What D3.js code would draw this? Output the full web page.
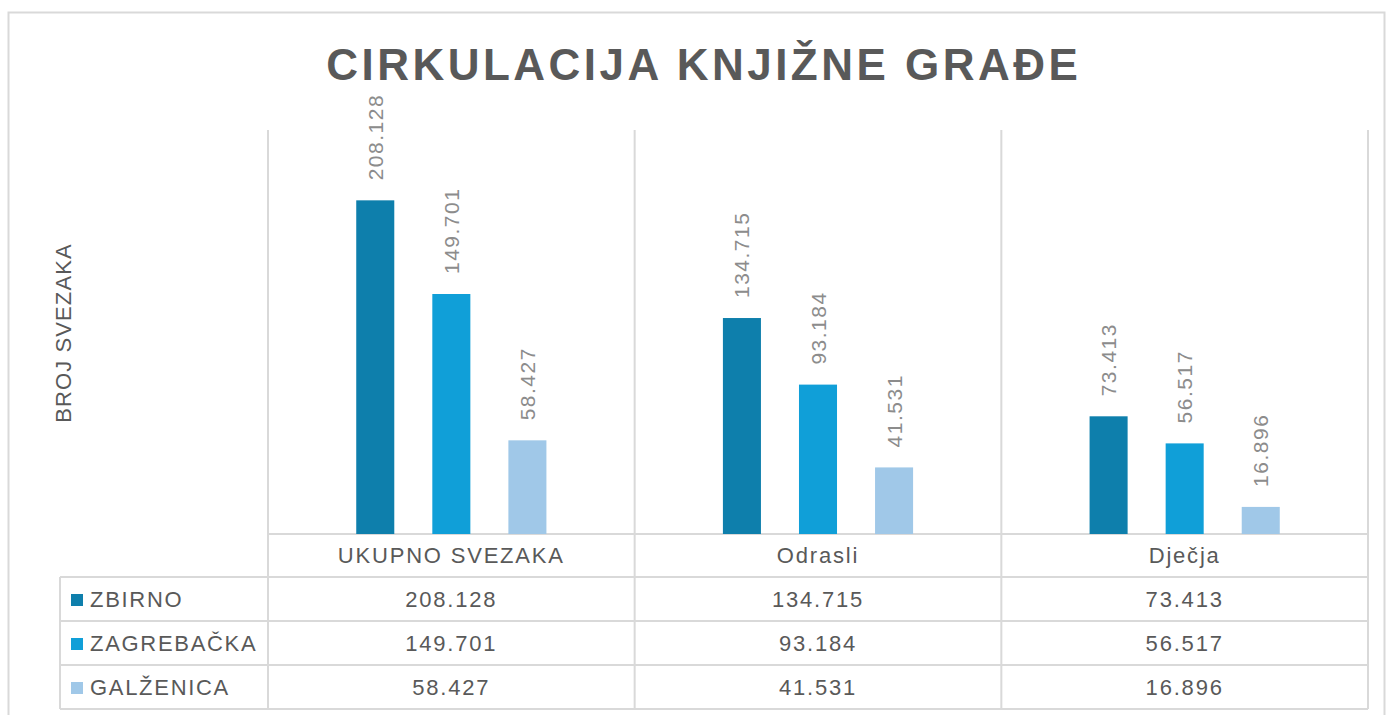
<!DOCTYPE html>
<meta charset="utf-8">
<style>
  body { margin: 0; background: #fff; }
  svg { display: block; }
  text { font-family: "Liberation Sans", Arial, sans-serif; }
</style>
<svg width="1390" height="715"></svg>
<script src="https://cdn.jsdelivr.net/npm/d3@7"></script>
<script>
var categories = ["UKUPNO SVEZAKA", "Odrasli", "Dječja"];
var series = ["ZBIRNO", "ZAGREBAČKA", "GALŽENICA"];
var colors = ["#0e7fac", "#109fd8", "#a0c8e8"];
var zbirno = [208128, 134715, 73413];
var zagrebacka = [149701, 93184, 56517];
var galzenica = [58427, 41531, 16896];
var values = [zbirno, zagrebacka, galzenica];

var fmt = function(v) { return d3.format(",")(v).replace(/,/g, "."); };

var svg = d3.select("svg"),
    plotLeft = 268, plotRight = 1368, plotTop = 130, base = 534,
    rowH = 44, tableTop = 577, tableLeft = 60,
    grid = "#d9d9d9", textCol = "#595959";

// outer frame
svg.append("rect")
    .attr("x", 8.5).attr("y", 12.5)
    .attr("width", 1376).attr("height", 720)
    .attr("fill", "none").attr("stroke", grid).attr("stroke-width", 2);

var x0 = d3.scaleBand().domain(categories).range([plotLeft, plotRight]);
var x1 = d3.scaleBand().domain(series).range([0, x0.bandwidth()])
    .paddingInner(0.5).paddingOuter(1.16);
var y = d3.scaleLinear().domain([0, 252000]).range([base, plotTop]);

// title
var title = svg.append("text")
    .attr("x", 702).attr("y", 80)
    .attr("text-anchor", "middle")
    .attr("fill", textCol)
    .style("font-size", "44px").style("font-weight", "bold")
    .text("CIRKULACIJA KNJIŽNE GRAĐE");
var tw = title.node().getComputedTextLength();
var ls = (755 - tw) / 25;
title.style("letter-spacing", ls + "px").attr("x", 702 + ls / 2);

// y axis title
svg.append("text")
    .attr("transform", "translate(71,333) rotate(-90)")
    .attr("text-anchor", "middle")
    .attr("fill", textCol)
    .style("font-size", "22px").style("letter-spacing", "1.1px")
    .text("BROJ SVEZAKA");

// grid lines
var g = svg.append("g").attr("stroke", grid).attr("stroke-width", 2);
var bounds = categories.map(function(c) { return x0(c); }).concat([plotRight]);
g.selectAll(".v").data(bounds).join("line")
    .attr("x1", function(d) { return d; }).attr("x2", function(d) { return d; })
    .attr("y1", plotTop).attr("y2", tableTop + rowH * 3);
g.append("line").attr("x1", plotLeft).attr("x2", plotRight).attr("y1", base).attr("y2", base);
g.selectAll(".h").data(d3.range(4)).join("line")
    .attr("x1", tableLeft).attr("x2", plotRight)
    .attr("y1", function(i) { return tableTop + i * rowH; })
    .attr("y2", function(i) { return tableTop + i * rowH; });
g.append("line").attr("x1", tableLeft).attr("x2", tableLeft)
    .attr("y1", tableTop).attr("y2", tableTop + rowH * 3);

// bars
var groups = svg.append("g").selectAll("g").data(series).join("g")
    .attr("fill", function(s, i) { return colors[i]; });

var cells = function(s, i) {
  return categories.map(function(c, j) { return {c: c, s: s, v: values[i][j]}; });
};

groups.selectAll("rect").data(cells).join("rect")
    .attr("x", function(d) { return x0(d.c) + x1(d.s); })
    .attr("width", x1.bandwidth())
    .attr("y", function(d) { return y(d.v); })
    .attr("height", function(d) { return base - y(d.v); });

// value labels
groups.selectAll("text").data(cells).join("text")
    .attr("transform", function(d) {
      return "translate(" + (x0(d.c) + x1(d.s) + x1.bandwidth() / 2) + "," + (y(d.v) - 20) + ") rotate(-90)";
    })
    .attr("dy", "0.36em")
    .attr("fill", "#8c8c8c")
    .style("font-size", "21px").style("letter-spacing", "1.5px")
    .text(function(d) { return fmt(d.v); });

// category labels
svg.append("g").selectAll("text").data(categories).join("text")
    .attr("x", function(c) { return x0(c) + x0.bandwidth() / 2; })
    .attr("y", (base + tableTop) / 2)
    .attr("dy", "0.36em")
    .attr("text-anchor", "middle")
    .attr("fill", textCol)
    .style("font-size", "22px").style("letter-spacing", "1.8px")
    .text(function(c) { return c; });

// data table
var rows = svg.append("g").selectAll("g").data(series).join("g")
    .attr("transform", function(s, i) { return "translate(0," + (tableTop + i * rowH + rowH / 2) + ")"; });

rows.append("rect")
    .attr("x", 71).attr("y", -5).attr("width", 12).attr("height", 12)
    .attr("fill", function(s, i) { return colors[i]; });

rows.append("text")
    .attr("x", 90).attr("dy", "0.36em")
    .attr("fill", textCol)
    .style("font-size", "22px").style("letter-spacing", "1.7px")
    .text(function(s) { return s; });

rows.selectAll(".val").data(cells).join("text")
    .attr("x", function(d) { return x0(d.c) + x0.bandwidth() / 2; })
    .attr("dy", "0.36em")
    .attr("text-anchor", "middle")
    .attr("fill", textCol)
    .style("font-size", "22px").style("letter-spacing", "1.8px")
    .text(function(d) { return fmt(d.v); });
</script>
